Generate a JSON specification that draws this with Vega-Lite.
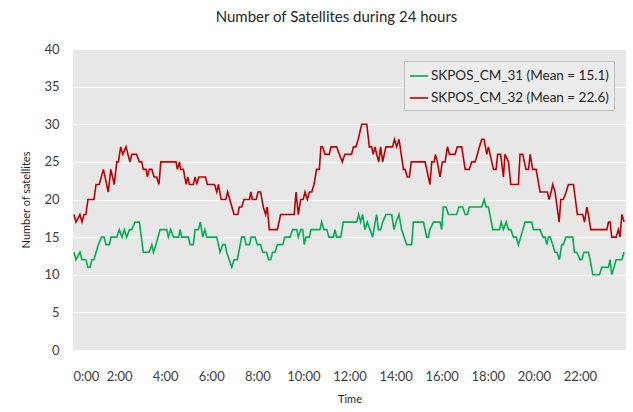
{
  "$schema": "https://vega.github.io/schema/vega-lite/v6.json",
  "width": 553,
  "height": 301,
  "autosize": {"type": "none"},
  "padding": {"left": 73, "top": 49, "right": 7, "bottom": 62},
  "background": "#ffffff",
  "config": {
    "font": "Lato",
    "view": {"fill": "#e7e7e7", "stroke": null}
  },
  "title": {
    "text": "Number of Satellites during 24 hours",
    "fontSize": 15,
    "fontWeight": "normal",
    "color": "#262626",
    "font": "Lato",
    "offset": 18,
    "dx": -13
  },
  "datasets": {
    "sat": [
      {"s":"SKPOS_CM_31 (Mean = 15.1)","t":0.04,"v":13},{"s":"SKPOS_CM_31 (Mean = 15.1)","t":0.13,"v":12},{"s":"SKPOS_CM_31 (Mean = 15.1)","t":0.3,"v":13},{"s":"SKPOS_CM_31 (Mean = 15.1)","t":0.39,"v":12},{"s":"SKPOS_CM_31 (Mean = 15.1)","t":0.56,"v":12},{"s":"SKPOS_CM_31 (Mean = 15.1)","t":0.65,"v":11},{"s":"SKPOS_CM_31 (Mean = 15.1)","t":0.74,"v":11},{"s":"SKPOS_CM_31 (Mean = 15.1)","t":0.82,"v":12},{"s":"SKPOS_CM_31 (Mean = 15.1)","t":0.91,"v":12},{"s":"SKPOS_CM_31 (Mean = 15.1)","t":1.0,"v":13},{"s":"SKPOS_CM_31 (Mean = 15.1)","t":1.1,"v":14},{"s":"SKPOS_CM_31 (Mean = 15.1)","t":1.24,"v":15},{"s":"SKPOS_CM_31 (Mean = 15.1)","t":1.35,"v":15},{"s":"SKPOS_CM_31 (Mean = 15.1)","t":1.43,"v":14},{"s":"SKPOS_CM_31 (Mean = 15.1)","t":1.58,"v":14},{"s":"SKPOS_CM_31 (Mean = 15.1)","t":1.65,"v":15},{"s":"SKPOS_CM_31 (Mean = 15.1)","t":1.9,"v":15},{"s":"SKPOS_CM_31 (Mean = 15.1)","t":2.01,"v":16},{"s":"SKPOS_CM_31 (Mean = 15.1)","t":2.13,"v":15},{"s":"SKPOS_CM_31 (Mean = 15.1)","t":2.23,"v":16},{"s":"SKPOS_CM_31 (Mean = 15.1)","t":2.33,"v":15},{"s":"SKPOS_CM_31 (Mean = 15.1)","t":2.45,"v":16},{"s":"SKPOS_CM_31 (Mean = 15.1)","t":2.55,"v":16},{"s":"SKPOS_CM_31 (Mean = 15.1)","t":2.69,"v":17},{"s":"SKPOS_CM_31 (Mean = 15.1)","t":2.88,"v":17},{"s":"SKPOS_CM_31 (Mean = 15.1)","t":3.05,"v":13},{"s":"SKPOS_CM_31 (Mean = 15.1)","t":3.31,"v":13},{"s":"SKPOS_CM_31 (Mean = 15.1)","t":3.42,"v":14},{"s":"SKPOS_CM_31 (Mean = 15.1)","t":3.49,"v":13},{"s":"SKPOS_CM_31 (Mean = 15.1)","t":3.6,"v":14},{"s":"SKPOS_CM_31 (Mean = 15.1)","t":3.78,"v":16},{"s":"SKPOS_CM_31 (Mean = 15.1)","t":4.07,"v":16},{"s":"SKPOS_CM_31 (Mean = 15.1)","t":4.14,"v":15},{"s":"SKPOS_CM_31 (Mean = 15.1)","t":4.24,"v":16},{"s":"SKPOS_CM_31 (Mean = 15.1)","t":4.36,"v":15},{"s":"SKPOS_CM_31 (Mean = 15.1)","t":4.59,"v":15},{"s":"SKPOS_CM_31 (Mean = 15.1)","t":4.65,"v":16},{"s":"SKPOS_CM_31 (Mean = 15.1)","t":4.72,"v":15},{"s":"SKPOS_CM_31 (Mean = 15.1)","t":5.01,"v":15},{"s":"SKPOS_CM_31 (Mean = 15.1)","t":5.08,"v":14},{"s":"SKPOS_CM_31 (Mean = 15.1)","t":5.22,"v":14},{"s":"SKPOS_CM_31 (Mean = 15.1)","t":5.3,"v":16},{"s":"SKPOS_CM_31 (Mean = 15.1)","t":5.44,"v":16},{"s":"SKPOS_CM_31 (Mean = 15.1)","t":5.53,"v":17},{"s":"SKPOS_CM_31 (Mean = 15.1)","t":5.63,"v":15},{"s":"SKPOS_CM_31 (Mean = 15.1)","t":5.72,"v":16},{"s":"SKPOS_CM_31 (Mean = 15.1)","t":5.8,"v":15},{"s":"SKPOS_CM_31 (Mean = 15.1)","t":6.24,"v":15},{"s":"SKPOS_CM_31 (Mean = 15.1)","t":6.38,"v":13},{"s":"SKPOS_CM_31 (Mean = 15.1)","t":6.5,"v":14},{"s":"SKPOS_CM_31 (Mean = 15.1)","t":6.6,"v":14},{"s":"SKPOS_CM_31 (Mean = 15.1)","t":6.67,"v":13},{"s":"SKPOS_CM_31 (Mean = 15.1)","t":6.89,"v":11},{"s":"SKPOS_CM_31 (Mean = 15.1)","t":6.99,"v":12},{"s":"SKPOS_CM_31 (Mean = 15.1)","t":7.13,"v":12},{"s":"SKPOS_CM_31 (Mean = 15.1)","t":7.32,"v":15},{"s":"SKPOS_CM_31 (Mean = 15.1)","t":7.44,"v":15},{"s":"SKPOS_CM_31 (Mean = 15.1)","t":7.51,"v":14},{"s":"SKPOS_CM_31 (Mean = 15.1)","t":7.66,"v":14},{"s":"SKPOS_CM_31 (Mean = 15.1)","t":7.73,"v":15},{"s":"SKPOS_CM_31 (Mean = 15.1)","t":7.9,"v":15},{"s":"SKPOS_CM_31 (Mean = 15.1)","t":8.0,"v":14},{"s":"SKPOS_CM_31 (Mean = 15.1)","t":8.14,"v":14},{"s":"SKPOS_CM_31 (Mean = 15.1)","t":8.23,"v":13},{"s":"SKPOS_CM_31 (Mean = 15.1)","t":8.4,"v":13},{"s":"SKPOS_CM_31 (Mean = 15.1)","t":8.49,"v":12},{"s":"SKPOS_CM_31 (Mean = 15.1)","t":8.58,"v":12},{"s":"SKPOS_CM_31 (Mean = 15.1)","t":8.66,"v":13},{"s":"SKPOS_CM_31 (Mean = 15.1)","t":8.77,"v":13},{"s":"SKPOS_CM_31 (Mean = 15.1)","t":8.87,"v":14},{"s":"SKPOS_CM_31 (Mean = 15.1)","t":9.1,"v":14},{"s":"SKPOS_CM_31 (Mean = 15.1)","t":9.2,"v":15},{"s":"SKPOS_CM_31 (Mean = 15.1)","t":9.42,"v":15},{"s":"SKPOS_CM_31 (Mean = 15.1)","t":9.53,"v":16},{"s":"SKPOS_CM_31 (Mean = 15.1)","t":9.71,"v":16},{"s":"SKPOS_CM_31 (Mean = 15.1)","t":9.78,"v":15},{"s":"SKPOS_CM_31 (Mean = 15.1)","t":9.88,"v":16},{"s":"SKPOS_CM_31 (Mean = 15.1)","t":9.97,"v":16},{"s":"SKPOS_CM_31 (Mean = 15.1)","t":10.04,"v":14},{"s":"SKPOS_CM_31 (Mean = 15.1)","t":10.11,"v":15},{"s":"SKPOS_CM_31 (Mean = 15.1)","t":10.26,"v":15},{"s":"SKPOS_CM_31 (Mean = 15.1)","t":10.33,"v":16},{"s":"SKPOS_CM_31 (Mean = 15.1)","t":10.72,"v":16},{"s":"SKPOS_CM_31 (Mean = 15.1)","t":10.79,"v":17},{"s":"SKPOS_CM_31 (Mean = 15.1)","t":10.89,"v":16},{"s":"SKPOS_CM_31 (Mean = 15.1)","t":11.01,"v":16},{"s":"SKPOS_CM_31 (Mean = 15.1)","t":11.11,"v":15},{"s":"SKPOS_CM_31 (Mean = 15.1)","t":11.3,"v":15},{"s":"SKPOS_CM_31 (Mean = 15.1)","t":11.37,"v":16},{"s":"SKPOS_CM_31 (Mean = 15.1)","t":11.44,"v":15},{"s":"SKPOS_CM_31 (Mean = 15.1)","t":11.62,"v":15},{"s":"SKPOS_CM_31 (Mean = 15.1)","t":11.73,"v":17},{"s":"SKPOS_CM_31 (Mean = 15.1)","t":12.31,"v":17},{"s":"SKPOS_CM_31 (Mean = 15.1)","t":12.4,"v":18},{"s":"SKPOS_CM_31 (Mean = 15.1)","t":12.48,"v":17},{"s":"SKPOS_CM_31 (Mean = 15.1)","t":12.57,"v":18},{"s":"SKPOS_CM_31 (Mean = 15.1)","t":12.67,"v":16},{"s":"SKPOS_CM_31 (Mean = 15.1)","t":12.77,"v":17},{"s":"SKPOS_CM_31 (Mean = 15.1)","t":12.89,"v":16},{"s":"SKPOS_CM_31 (Mean = 15.1)","t":13.01,"v":15},{"s":"SKPOS_CM_31 (Mean = 15.1)","t":13.11,"v":17},{"s":"SKPOS_CM_31 (Mean = 15.1)","t":13.18,"v":18},{"s":"SKPOS_CM_31 (Mean = 15.1)","t":13.25,"v":16},{"s":"SKPOS_CM_31 (Mean = 15.1)","t":13.35,"v":16},{"s":"SKPOS_CM_31 (Mean = 15.1)","t":13.44,"v":17},{"s":"SKPOS_CM_31 (Mean = 15.1)","t":13.58,"v":18},{"s":"SKPOS_CM_31 (Mean = 15.1)","t":13.83,"v":18},{"s":"SKPOS_CM_31 (Mean = 15.1)","t":13.93,"v":16},{"s":"SKPOS_CM_31 (Mean = 15.1)","t":14.02,"v":17},{"s":"SKPOS_CM_31 (Mean = 15.1)","t":14.15,"v":18},{"s":"SKPOS_CM_31 (Mean = 15.1)","t":14.26,"v":16},{"s":"SKPOS_CM_31 (Mean = 15.1)","t":14.37,"v":15},{"s":"SKPOS_CM_31 (Mean = 15.1)","t":14.48,"v":14},{"s":"SKPOS_CM_31 (Mean = 15.1)","t":14.7,"v":14},{"s":"SKPOS_CM_31 (Mean = 15.1)","t":14.77,"v":17},{"s":"SKPOS_CM_31 (Mean = 15.1)","t":15.21,"v":17},{"s":"SKPOS_CM_31 (Mean = 15.1)","t":15.35,"v":15},{"s":"SKPOS_CM_31 (Mean = 15.1)","t":15.42,"v":15},{"s":"SKPOS_CM_31 (Mean = 15.1)","t":15.49,"v":16},{"s":"SKPOS_CM_31 (Mean = 15.1)","t":15.64,"v":17},{"s":"SKPOS_CM_31 (Mean = 15.1)","t":15.93,"v":17},{"s":"SKPOS_CM_31 (Mean = 15.1)","t":16.0,"v":16},{"s":"SKPOS_CM_31 (Mean = 15.1)","t":16.07,"v":19},{"s":"SKPOS_CM_31 (Mean = 15.1)","t":16.19,"v":19},{"s":"SKPOS_CM_31 (Mean = 15.1)","t":16.29,"v":18},{"s":"SKPOS_CM_31 (Mean = 15.1)","t":16.65,"v":18},{"s":"SKPOS_CM_31 (Mean = 15.1)","t":16.75,"v":19},{"s":"SKPOS_CM_31 (Mean = 15.1)","t":16.91,"v":19},{"s":"SKPOS_CM_31 (Mean = 15.1)","t":17.02,"v":18},{"s":"SKPOS_CM_31 (Mean = 15.1)","t":17.12,"v":18},{"s":"SKPOS_CM_31 (Mean = 15.1)","t":17.2,"v":19},{"s":"SKPOS_CM_31 (Mean = 15.1)","t":17.74,"v":19},{"s":"SKPOS_CM_31 (Mean = 15.1)","t":17.84,"v":20},{"s":"SKPOS_CM_31 (Mean = 15.1)","t":17.93,"v":19},{"s":"SKPOS_CM_31 (Mean = 15.1)","t":18.03,"v":19},{"s":"SKPOS_CM_31 (Mean = 15.1)","t":18.22,"v":16},{"s":"SKPOS_CM_31 (Mean = 15.1)","t":18.51,"v":16},{"s":"SKPOS_CM_31 (Mean = 15.1)","t":18.58,"v":17},{"s":"SKPOS_CM_31 (Mean = 15.1)","t":18.68,"v":16},{"s":"SKPOS_CM_31 (Mean = 15.1)","t":18.8,"v":17},{"s":"SKPOS_CM_31 (Mean = 15.1)","t":18.9,"v":16},{"s":"SKPOS_CM_31 (Mean = 15.1)","t":19.0,"v":16},{"s":"SKPOS_CM_31 (Mean = 15.1)","t":19.11,"v":15},{"s":"SKPOS_CM_31 (Mean = 15.1)","t":19.23,"v":15},{"s":"SKPOS_CM_31 (Mean = 15.1)","t":19.33,"v":14},{"s":"SKPOS_CM_31 (Mean = 15.1)","t":19.43,"v":15},{"s":"SKPOS_CM_31 (Mean = 15.1)","t":19.62,"v":17},{"s":"SKPOS_CM_31 (Mean = 15.1)","t":19.91,"v":17},{"s":"SKPOS_CM_31 (Mean = 15.1)","t":19.98,"v":16},{"s":"SKPOS_CM_31 (Mean = 15.1)","t":20.27,"v":16},{"s":"SKPOS_CM_31 (Mean = 15.1)","t":20.39,"v":15},{"s":"SKPOS_CM_31 (Mean = 15.1)","t":20.49,"v":15},{"s":"SKPOS_CM_31 (Mean = 15.1)","t":20.56,"v":14},{"s":"SKPOS_CM_31 (Mean = 15.1)","t":20.63,"v":15},{"s":"SKPOS_CM_31 (Mean = 15.1)","t":20.71,"v":15},{"s":"SKPOS_CM_31 (Mean = 15.1)","t":20.82,"v":14},{"s":"SKPOS_CM_31 (Mean = 15.1)","t":20.92,"v":13},{"s":"SKPOS_CM_31 (Mean = 15.1)","t":21.0,"v":13},{"s":"SKPOS_CM_31 (Mean = 15.1)","t":21.11,"v":12},{"s":"SKPOS_CM_31 (Mean = 15.1)","t":21.21,"v":14},{"s":"SKPOS_CM_31 (Mean = 15.1)","t":21.28,"v":14},{"s":"SKPOS_CM_31 (Mean = 15.1)","t":21.39,"v":15},{"s":"SKPOS_CM_31 (Mean = 15.1)","t":21.69,"v":15},{"s":"SKPOS_CM_31 (Mean = 15.1)","t":21.76,"v":13},{"s":"SKPOS_CM_31 (Mean = 15.1)","t":21.86,"v":13},{"s":"SKPOS_CM_31 (Mean = 15.1)","t":22.01,"v":12},{"s":"SKPOS_CM_31 (Mean = 15.1)","t":22.08,"v":12},{"s":"SKPOS_CM_31 (Mean = 15.1)","t":22.18,"v":13},{"s":"SKPOS_CM_31 (Mean = 15.1)","t":22.37,"v":13},{"s":"SKPOS_CM_31 (Mean = 15.1)","t":22.44,"v":12},{"s":"SKPOS_CM_31 (Mean = 15.1)","t":22.56,"v":10},{"s":"SKPOS_CM_31 (Mean = 15.1)","t":22.85,"v":10},{"s":"SKPOS_CM_31 (Mean = 15.1)","t":22.95,"v":11},{"s":"SKPOS_CM_31 (Mean = 15.1)","t":23.24,"v":11},{"s":"SKPOS_CM_31 (Mean = 15.1)","t":23.31,"v":12},{"s":"SKPOS_CM_31 (Mean = 15.1)","t":23.38,"v":10},{"s":"SKPOS_CM_31 (Mean = 15.1)","t":23.48,"v":11},{"s":"SKPOS_CM_31 (Mean = 15.1)","t":23.57,"v":12},{"s":"SKPOS_CM_31 (Mean = 15.1)","t":23.82,"v":12},{"s":"SKPOS_CM_31 (Mean = 15.1)","t":23.92,"v":13},
      {"s":"SKPOS_CM_32 (Mean = 22.6)","t":0.04,"v":18},{"s":"SKPOS_CM_32 (Mean = 22.6)","t":0.13,"v":17},{"s":"SKPOS_CM_32 (Mean = 22.6)","t":0.3,"v":18},{"s":"SKPOS_CM_32 (Mean = 22.6)","t":0.39,"v":17},{"s":"SKPOS_CM_32 (Mean = 22.6)","t":0.48,"v":18},{"s":"SKPOS_CM_32 (Mean = 22.6)","t":0.56,"v":18},{"s":"SKPOS_CM_32 (Mean = 22.6)","t":0.65,"v":20},{"s":"SKPOS_CM_32 (Mean = 22.6)","t":0.91,"v":20},{"s":"SKPOS_CM_32 (Mean = 22.6)","t":1.0,"v":22},{"s":"SKPOS_CM_32 (Mean = 22.6)","t":1.14,"v":22},{"s":"SKPOS_CM_32 (Mean = 22.6)","t":1.32,"v":24},{"s":"SKPOS_CM_32 (Mean = 22.6)","t":1.53,"v":21},{"s":"SKPOS_CM_32 (Mean = 22.6)","t":1.64,"v":24},{"s":"SKPOS_CM_32 (Mean = 22.6)","t":1.79,"v":22},{"s":"SKPOS_CM_32 (Mean = 22.6)","t":1.9,"v":25},{"s":"SKPOS_CM_32 (Mean = 22.6)","t":1.97,"v":25},{"s":"SKPOS_CM_32 (Mean = 22.6)","t":2.07,"v":27},{"s":"SKPOS_CM_32 (Mean = 22.6)","t":2.16,"v":26},{"s":"SKPOS_CM_32 (Mean = 22.6)","t":2.3,"v":27},{"s":"SKPOS_CM_32 (Mean = 22.6)","t":2.47,"v":25},{"s":"SKPOS_CM_32 (Mean = 22.6)","t":2.55,"v":26},{"s":"SKPOS_CM_32 (Mean = 22.6)","t":2.76,"v":26},{"s":"SKPOS_CM_32 (Mean = 22.6)","t":2.88,"v":25},{"s":"SKPOS_CM_32 (Mean = 22.6)","t":2.98,"v":25},{"s":"SKPOS_CM_32 (Mean = 22.6)","t":3.05,"v":24},{"s":"SKPOS_CM_32 (Mean = 22.6)","t":3.17,"v":24},{"s":"SKPOS_CM_32 (Mean = 22.6)","t":3.23,"v":23},{"s":"SKPOS_CM_32 (Mean = 22.6)","t":3.31,"v":24},{"s":"SKPOS_CM_32 (Mean = 22.6)","t":3.42,"v":24},{"s":"SKPOS_CM_32 (Mean = 22.6)","t":3.52,"v":23},{"s":"SKPOS_CM_32 (Mean = 22.6)","t":3.63,"v":23},{"s":"SKPOS_CM_32 (Mean = 22.6)","t":3.73,"v":22},{"s":"SKPOS_CM_32 (Mean = 22.6)","t":3.81,"v":25},{"s":"SKPOS_CM_32 (Mean = 22.6)","t":4.47,"v":25},{"s":"SKPOS_CM_32 (Mean = 22.6)","t":4.53,"v":24},{"s":"SKPOS_CM_32 (Mean = 22.6)","t":4.62,"v":25},{"s":"SKPOS_CM_32 (Mean = 22.6)","t":4.67,"v":24},{"s":"SKPOS_CM_32 (Mean = 22.6)","t":4.79,"v":24},{"s":"SKPOS_CM_32 (Mean = 22.6)","t":4.91,"v":22},{"s":"SKPOS_CM_32 (Mean = 22.6)","t":4.98,"v":23},{"s":"SKPOS_CM_32 (Mean = 22.6)","t":5.05,"v":22},{"s":"SKPOS_CM_32 (Mean = 22.6)","t":5.22,"v":22},{"s":"SKPOS_CM_32 (Mean = 22.6)","t":5.3,"v":23},{"s":"SKPOS_CM_32 (Mean = 22.6)","t":5.37,"v":22},{"s":"SKPOS_CM_32 (Mean = 22.6)","t":5.46,"v":23},{"s":"SKPOS_CM_32 (Mean = 22.6)","t":5.75,"v":23},{"s":"SKPOS_CM_32 (Mean = 22.6)","t":5.83,"v":22},{"s":"SKPOS_CM_32 (Mean = 22.6)","t":6.14,"v":22},{"s":"SKPOS_CM_32 (Mean = 22.6)","t":6.24,"v":21},{"s":"SKPOS_CM_32 (Mean = 22.6)","t":6.31,"v":22},{"s":"SKPOS_CM_32 (Mean = 22.6)","t":6.43,"v":20},{"s":"SKPOS_CM_32 (Mean = 22.6)","t":6.63,"v":20},{"s":"SKPOS_CM_32 (Mean = 22.6)","t":6.71,"v":21},{"s":"SKPOS_CM_32 (Mean = 22.6)","t":6.99,"v":18},{"s":"SKPOS_CM_32 (Mean = 22.6)","t":7.15,"v":18},{"s":"SKPOS_CM_32 (Mean = 22.6)","t":7.22,"v":19},{"s":"SKPOS_CM_32 (Mean = 22.6)","t":7.32,"v":19},{"s":"SKPOS_CM_32 (Mean = 22.6)","t":7.42,"v":20},{"s":"SKPOS_CM_32 (Mean = 22.6)","t":7.66,"v":20},{"s":"SKPOS_CM_32 (Mean = 22.6)","t":7.72,"v":21},{"s":"SKPOS_CM_32 (Mean = 22.6)","t":7.78,"v":20},{"s":"SKPOS_CM_32 (Mean = 22.6)","t":7.95,"v":20},{"s":"SKPOS_CM_32 (Mean = 22.6)","t":8.03,"v":21},{"s":"SKPOS_CM_32 (Mean = 22.6)","t":8.14,"v":21},{"s":"SKPOS_CM_32 (Mean = 22.6)","t":8.26,"v":19},{"s":"SKPOS_CM_32 (Mean = 22.6)","t":8.36,"v":18},{"s":"SKPOS_CM_32 (Mean = 22.6)","t":8.43,"v":19},{"s":"SKPOS_CM_32 (Mean = 22.6)","t":8.52,"v":16},{"s":"SKPOS_CM_32 (Mean = 22.6)","t":8.87,"v":16},{"s":"SKPOS_CM_32 (Mean = 22.6)","t":9.01,"v":18},{"s":"SKPOS_CM_32 (Mean = 22.6)","t":9.6,"v":18},{"s":"SKPOS_CM_32 (Mean = 22.6)","t":9.68,"v":21},{"s":"SKPOS_CM_32 (Mean = 22.6)","t":9.78,"v":18},{"s":"SKPOS_CM_32 (Mean = 22.6)","t":9.88,"v":20},{"s":"SKPOS_CM_32 (Mean = 22.6)","t":9.99,"v":20},{"s":"SKPOS_CM_32 (Mean = 22.6)","t":10.07,"v":21},{"s":"SKPOS_CM_32 (Mean = 22.6)","t":10.17,"v":20},{"s":"SKPOS_CM_32 (Mean = 22.6)","t":10.26,"v":21},{"s":"SKPOS_CM_32 (Mean = 22.6)","t":10.36,"v":21},{"s":"SKPOS_CM_32 (Mean = 22.6)","t":10.46,"v":22},{"s":"SKPOS_CM_32 (Mean = 22.6)","t":10.57,"v":24},{"s":"SKPOS_CM_32 (Mean = 22.6)","t":10.69,"v":24},{"s":"SKPOS_CM_32 (Mean = 22.6)","t":10.76,"v":27},{"s":"SKPOS_CM_32 (Mean = 22.6)","t":10.83,"v":27},{"s":"SKPOS_CM_32 (Mean = 22.6)","t":10.94,"v":26},{"s":"SKPOS_CM_32 (Mean = 22.6)","t":11.12,"v":26},{"s":"SKPOS_CM_32 (Mean = 22.6)","t":11.2,"v":27},{"s":"SKPOS_CM_32 (Mean = 22.6)","t":11.44,"v":27},{"s":"SKPOS_CM_32 (Mean = 22.6)","t":11.56,"v":26},{"s":"SKPOS_CM_32 (Mean = 22.6)","t":11.69,"v":25},{"s":"SKPOS_CM_32 (Mean = 22.6)","t":11.8,"v":26},{"s":"SKPOS_CM_32 (Mean = 22.6)","t":12.09,"v":26},{"s":"SKPOS_CM_32 (Mean = 22.6)","t":12.17,"v":27},{"s":"SKPOS_CM_32 (Mean = 22.6)","t":12.28,"v":27},{"s":"SKPOS_CM_32 (Mean = 22.6)","t":12.38,"v":28},{"s":"SKPOS_CM_32 (Mean = 22.6)","t":12.53,"v":30},{"s":"SKPOS_CM_32 (Mean = 22.6)","t":12.75,"v":30},{"s":"SKPOS_CM_32 (Mean = 22.6)","t":12.86,"v":27},{"s":"SKPOS_CM_32 (Mean = 22.6)","t":12.96,"v":27},{"s":"SKPOS_CM_32 (Mean = 22.6)","t":13.03,"v":26},{"s":"SKPOS_CM_32 (Mean = 22.6)","t":13.11,"v":27},{"s":"SKPOS_CM_32 (Mean = 22.6)","t":13.18,"v":26},{"s":"SKPOS_CM_32 (Mean = 22.6)","t":13.27,"v":25},{"s":"SKPOS_CM_32 (Mean = 22.6)","t":13.35,"v":27},{"s":"SKPOS_CM_32 (Mean = 22.6)","t":13.44,"v":25},{"s":"SKPOS_CM_32 (Mean = 22.6)","t":13.58,"v":27},{"s":"SKPOS_CM_32 (Mean = 22.6)","t":13.87,"v":27},{"s":"SKPOS_CM_32 (Mean = 22.6)","t":13.95,"v":28},{"s":"SKPOS_CM_32 (Mean = 22.6)","t":14.05,"v":27},{"s":"SKPOS_CM_32 (Mean = 22.6)","t":14.15,"v":28},{"s":"SKPOS_CM_32 (Mean = 22.6)","t":14.34,"v":24},{"s":"SKPOS_CM_32 (Mean = 22.6)","t":14.41,"v":24},{"s":"SKPOS_CM_32 (Mean = 22.6)","t":14.51,"v":23},{"s":"SKPOS_CM_32 (Mean = 22.6)","t":14.6,"v":23},{"s":"SKPOS_CM_32 (Mean = 22.6)","t":14.68,"v":25},{"s":"SKPOS_CM_32 (Mean = 22.6)","t":15.28,"v":25},{"s":"SKPOS_CM_32 (Mean = 22.6)","t":15.49,"v":22},{"s":"SKPOS_CM_32 (Mean = 22.6)","t":15.57,"v":25},{"s":"SKPOS_CM_32 (Mean = 22.6)","t":15.67,"v":25},{"s":"SKPOS_CM_32 (Mean = 22.6)","t":15.73,"v":26},{"s":"SKPOS_CM_32 (Mean = 22.6)","t":15.81,"v":25},{"s":"SKPOS_CM_32 (Mean = 22.6)","t":15.93,"v":23},{"s":"SKPOS_CM_32 (Mean = 22.6)","t":16.03,"v":25},{"s":"SKPOS_CM_32 (Mean = 22.6)","t":16.15,"v":25},{"s":"SKPOS_CM_32 (Mean = 22.6)","t":16.25,"v":27},{"s":"SKPOS_CM_32 (Mean = 22.6)","t":16.34,"v":26},{"s":"SKPOS_CM_32 (Mean = 22.6)","t":16.58,"v":26},{"s":"SKPOS_CM_32 (Mean = 22.6)","t":16.68,"v":27},{"s":"SKPOS_CM_32 (Mean = 22.6)","t":16.87,"v":27},{"s":"SKPOS_CM_32 (Mean = 22.6)","t":17.02,"v":24},{"s":"SKPOS_CM_32 (Mean = 22.6)","t":17.2,"v":24},{"s":"SKPOS_CM_32 (Mean = 22.6)","t":17.3,"v":25},{"s":"SKPOS_CM_32 (Mean = 22.6)","t":17.45,"v":25},{"s":"SKPOS_CM_32 (Mean = 22.6)","t":17.55,"v":26},{"s":"SKPOS_CM_32 (Mean = 22.6)","t":17.64,"v":27},{"s":"SKPOS_CM_32 (Mean = 22.6)","t":17.74,"v":28},{"s":"SKPOS_CM_32 (Mean = 22.6)","t":17.84,"v":28},{"s":"SKPOS_CM_32 (Mean = 22.6)","t":17.96,"v":26},{"s":"SKPOS_CM_32 (Mean = 22.6)","t":18.03,"v":27},{"s":"SKPOS_CM_32 (Mean = 22.6)","t":18.1,"v":26},{"s":"SKPOS_CM_32 (Mean = 22.6)","t":18.25,"v":24},{"s":"SKPOS_CM_32 (Mean = 22.6)","t":18.36,"v":24},{"s":"SKPOS_CM_32 (Mean = 22.6)","t":18.43,"v":26},{"s":"SKPOS_CM_32 (Mean = 22.6)","t":18.56,"v":26},{"s":"SKPOS_CM_32 (Mean = 22.6)","t":18.68,"v":23},{"s":"SKPOS_CM_32 (Mean = 22.6)","t":18.75,"v":26},{"s":"SKPOS_CM_32 (Mean = 22.6)","t":18.9,"v":25},{"s":"SKPOS_CM_32 (Mean = 22.6)","t":19.0,"v":22},{"s":"SKPOS_CM_32 (Mean = 22.6)","t":19.33,"v":22},{"s":"SKPOS_CM_32 (Mean = 22.6)","t":19.4,"v":26},{"s":"SKPOS_CM_32 (Mean = 22.6)","t":19.52,"v":26},{"s":"SKPOS_CM_32 (Mean = 22.6)","t":19.66,"v":24},{"s":"SKPOS_CM_32 (Mean = 22.6)","t":19.77,"v":24},{"s":"SKPOS_CM_32 (Mean = 22.6)","t":19.84,"v":26},{"s":"SKPOS_CM_32 (Mean = 22.6)","t":19.95,"v":24},{"s":"SKPOS_CM_32 (Mean = 22.6)","t":20.1,"v":24},{"s":"SKPOS_CM_32 (Mean = 22.6)","t":20.27,"v":21},{"s":"SKPOS_CM_32 (Mean = 22.6)","t":20.59,"v":21},{"s":"SKPOS_CM_32 (Mean = 22.6)","t":20.66,"v":20},{"s":"SKPOS_CM_32 (Mean = 22.6)","t":20.75,"v":21},{"s":"SKPOS_CM_32 (Mean = 22.6)","t":20.82,"v":22},{"s":"SKPOS_CM_32 (Mean = 22.6)","t":20.92,"v":21},{"s":"SKPOS_CM_32 (Mean = 22.6)","t":21.1,"v":17},{"s":"SKPOS_CM_32 (Mean = 22.6)","t":21.17,"v":20},{"s":"SKPOS_CM_32 (Mean = 22.6)","t":21.28,"v":20},{"s":"SKPOS_CM_32 (Mean = 22.6)","t":21.4,"v":21},{"s":"SKPOS_CM_32 (Mean = 22.6)","t":21.5,"v":22},{"s":"SKPOS_CM_32 (Mean = 22.6)","t":21.72,"v":22},{"s":"SKPOS_CM_32 (Mean = 22.6)","t":21.89,"v":18},{"s":"SKPOS_CM_32 (Mean = 22.6)","t":22.12,"v":18},{"s":"SKPOS_CM_32 (Mean = 22.6)","t":22.2,"v":17},{"s":"SKPOS_CM_32 (Mean = 22.6)","t":22.3,"v":19},{"s":"SKPOS_CM_32 (Mean = 22.6)","t":22.37,"v":18},{"s":"SKPOS_CM_32 (Mean = 22.6)","t":22.47,"v":16},{"s":"SKPOS_CM_32 (Mean = 22.6)","t":23.17,"v":16},{"s":"SKPOS_CM_32 (Mean = 22.6)","t":23.24,"v":17},{"s":"SKPOS_CM_32 (Mean = 22.6)","t":23.31,"v":17},{"s":"SKPOS_CM_32 (Mean = 22.6)","t":23.38,"v":15},{"s":"SKPOS_CM_32 (Mean = 22.6)","t":23.57,"v":15},{"s":"SKPOS_CM_32 (Mean = 22.6)","t":23.67,"v":16},{"s":"SKPOS_CM_32 (Mean = 22.6)","t":23.74,"v":15},{"s":"SKPOS_CM_32 (Mean = 22.6)","t":23.82,"v":18},{"s":"SKPOS_CM_32 (Mean = 22.6)","t":23.92,"v":17}
    ]
  },
  "data": {"name": "sat"},
  "mark": {"type": "line", "strokeWidth": 1.6, "clip": true},
  "encoding": {
    "x": {
      "field": "t",
      "type": "quantitative",
      "scale": {"domain": [0, 24], "nice": false, "zero": false},
      "axis": {
        "title": "Time",
        "values": [0, 2, 4, 6, 8, 10, 12, 14, 16, 18, 20, 22],
        "labelExpr": "datum.value + ':00'",
        "grid": false,
        "domain": false,
        "ticks": false,
        "labelPadding": 20,
        "labelFontSize": 13,
        "labelColor": "#404040",
        "labelFont": "Lato",
        "titleFont": "Lato",
        "titleFontSize": 11,
        "titleFontWeight": "normal",
        "titleColor": "#262626",
        "titlePadding": 10
      }
    },
    "y": {
      "field": "v",
      "type": "quantitative",
      "scale": {"domain": [0, 40], "nice": false},
      "axis": {
        "title": "Number of satellites",
        "values": [0, 5, 10, 15, 20, 25, 30, 35, 40],
        "grid": true,
        "gridColor": "#ffffff",
        "gridWidth": 1.2,
        "domain": false,
        "ticks": false,
        "labelPadding": 14,
        "labelFontSize": 13,
        "labelColor": "#404040",
        "labelFont": "Lato",
        "titleFont": "Lato",
        "titleFontSize": 11,
        "titleFontWeight": "normal",
        "titleColor": "#262626",
        "titlePadding": 12
      }
    },
    "color": {
      "field": "s",
      "type": "nominal",
      "scale": {
        "domain": ["SKPOS_CM_31 (Mean = 15.1)", "SKPOS_CM_32 (Mean = 22.6)"],
        "range": ["#00b050", "#c00000"]
      },
      "legend": {
        "title": null,
        "orient": "top-right",
        "offset": 12,
        "symbolType": "stroke",
        "symbolSize": 324,
        "symbolStrokeWidth": 1.6,
        "labelFontSize": 13.5,
        "labelFont": "Lato",
        "labelColor": "#262626",
        "labelLimit": 400,
        "labelOffset": 2,
        "rowPadding": 5,
        "fillColor": "#ececec",
        "strokeColor": "#bfbfbf",
        "padding": 5
      }
    }
  }
}
